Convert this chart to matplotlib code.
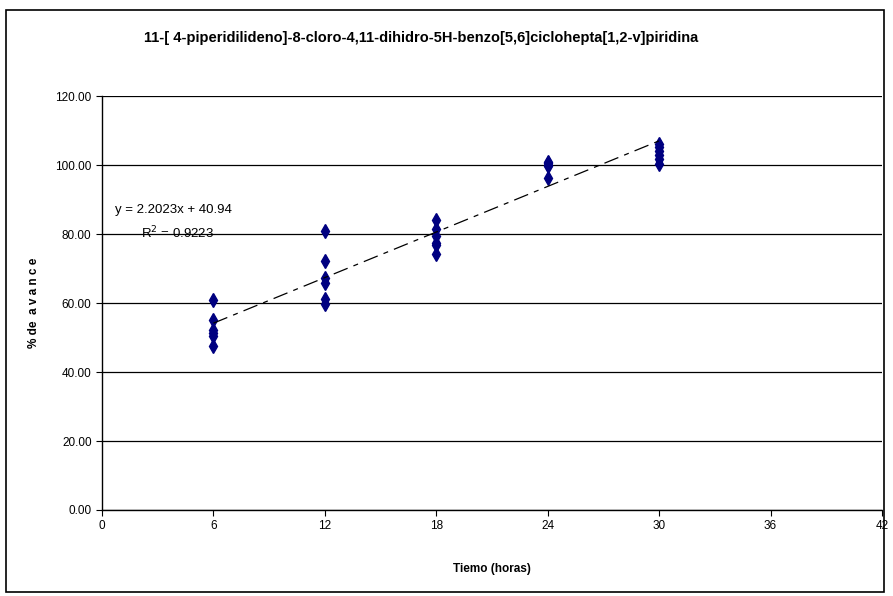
import numpy as np
import matplotlib.pyplot as plt
from matplotlib.patches import Rectangle

plt.rcParams['font.family'] = ['Liberation Sans', 'DejaVu Sans']

# Data (% avance vs time)
t_6 = [61.0, 55.2, 52.2, 51.3, 50.5, 47.5]
t_12 = [80.9, 72.2, 67.2, 65.8, 61.3, 59.7]
t_18 = [84.2, 81.5, 79.5, 77.5, 76.8, 74.3]
t_24 = [101.0, 100.6, 100.0, 99.6, 96.1]
t_30 = [106.0, 105.2, 104.2, 103.0, 101.6, 100.2]
times = [6, 12, 18, 24, 30]

slope = 2.2023
intercept = 40.94
r2 = 0.9223

x = []
y = []
for t, vals in zip(times, [t_6, t_12, t_18, t_24, t_30]):
    x += [t] * len(vals)
    y += vals

fig = plt.figure(figsize=(8.93, 5.96), dpi=100)
ax = fig.add_axes([0.1142, 0.1443, 0.8735, 0.6946])

# outer chart border
fig.patches.append(Rectangle((6/893, 4/596), 878/893, 582/596, transform=fig.transFigure,
                             fill=False, edgecolor='black', linewidth=1.2))

ax.set_xlim(0, 42)
ax.set_ylim(0, 120)
ax.set_xticks(range(0, 43, 6))
ax.set_yticks(range(0, 121, 20))
ax.set_yticklabels([f"{v:.2f}" for v in range(0, 121, 20)])
ax.yaxis.grid(True, color='black', linewidth=0.9)
ax.set_axisbelow(True)
for s in ['top', 'right']:
    ax.spines[s].set_visible(False)
ax.spines['left'].set_linewidth(1.0)
ax.spines['bottom'].set_linewidth(1.0)
ax.tick_params(axis='both', labelsize=8.5, direction='out', length=4, width=0.8)

ax.plot(x, y, linestyle='none', marker='d', markersize=7, color='#000080')

xl = np.array([min(times), max(times)])
ax.plot(xl, slope * xl + intercept, color='black', linewidth=0.9,
        linestyle=(0, (12, 5, 4, 5)))

ax.text(0.7, 86.0, f"y = {slope}x + {intercept}", fontsize=9.5)
ax.text(2.1, 78.8, f"R$^2$ = {r2}", fontsize=9.5)

ax.set_xlabel("Tiemo (horas)", fontsize=8.5, fontweight='bold', labelpad=22)
ax.set_ylabel("% de  a v a n c e", fontsize=8.5, fontweight='bold', labelpad=11)
fig.text(421/893, 1 - 38/596, "11-[ 4-piperidilideno]-8-cloro-4,11-dihidro-5H-benzo[5,6]ciclohepta[1,2-v]piridina",
         ha='center', va='center', fontsize=10.5, fontweight='bold')

fig.savefig("out.png", dpi=100)
